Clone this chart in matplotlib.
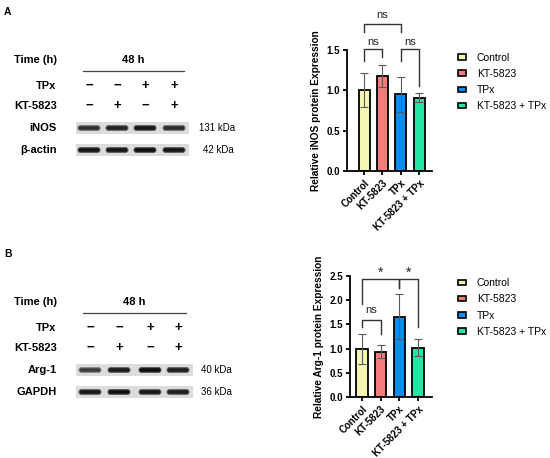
import numpy as np
import matplotlib
matplotlib.use("Agg")
import matplotlib.pyplot as plt
from matplotlib.patches import Rectangle, FancyBboxPatch, Patch

plt.rcParams['font.family'] = ['Liberation Sans', 'DejaVu Sans']

groups = ['Control', 'KT-5823', 'TPx', 'KT-5823 + TPx']
colors = ['#F4F6B4', '#F67C7C', '#0A8DF0', '#22E6A2']

inos_mean = [1.00, 1.18, 0.95, 0.91]
inos_err = [0.21, 0.14, 0.22, 0.06]
arg1_mean = [1.00, 0.94, 1.66, 1.02]
arg1_err = [0.31, 0.14, 0.47, 0.18]

# brackets: (left bar, right bar, top, left leg end, right leg end, label, label y)
inos_brackets = [(0, 1, 1.51, 1.36, 1.41, 'ns', 1.60),
                 (2, 3, 1.51, 1.36, 1.05, 'ns', 1.60),
                 (0, 2, 1.82, 1.72, 1.72, 'ns', 1.93)]
arg1_brackets = [(0, 2, 2.43, 1.92, 2.25, '*', 2.56),
                 (2, 3, 2.43, 2.25, 1.45, '*', 2.56),
                 (0, 1, 1.60, 1.45, 1.31, 'ns', 1.80)]

# blot panels
tpx_signs = ['−', '−', '+', '+']
kt_signs = ['−', '+', '−', '+']
inos_band = [0.60, 0.75, 0.90, 0.65]
actin_band = [0.90, 0.90, 1.00, 0.90]
arg1_band = [0.45, 0.85, 1.00, 0.80]
gapdh_band = [0.85, 0.95, 0.85, 0.80]

fig = plt.figure(figsize=(5.5, 4.58), dpi=100)

# overlay axes in pixel units for the blot panels
ax0 = fig.add_axes([0, 0, 1, 1])
ax0.set_xlim(0, 550)
ax0.set_ylim(458, 0)
ax0.axis('off')


def blot_row(ax, y, x0, x1, lanes, levels, bw=26):
    ax.add_patch(Rectangle((x0, y - 6), x1 - x0, 12, facecolor='#dcdcdc',
                           edgecolor='none'))
    for xc, lv in zip(lanes, levels):
        g = 0.40 - 0.35 * lv
        ax.add_patch(FancyBboxPatch((xc - bw / 2 + 1.5, y - 3), bw - 3, 6,
                                    boxstyle='round,pad=0,rounding_size=3',
                                    facecolor=(g + 0.3, g + 0.3, g + 0.3),
                                    edgecolor='none'))
        ax.add_patch(FancyBboxPatch((xc - bw / 2 + 2.5, y - 1.8), bw - 5, 3.6,
                                    boxstyle='round,pad=0,rounding_size=1.8',
                                    facecolor=(g, g, g), edgecolor='none'))


def blot_panel(ax, letter, y0, lanes, line_x, names, kda, bands, kda_x, box_x1):
    ax.text(4, y0, letter, fontsize=7.5, fontweight='bold', va='center')
    yt = y0 + 48
    ax.text(57, yt, 'Time (h)', fontsize=8, fontweight='bold', ha='right', va='center')
    ax.text(np.mean(line_x), yt, '48 h', fontsize=8, fontweight='bold', ha='center', va='center')
    ax.plot(line_x, [yt + 11, yt + 11], color='#444444', lw=0.9)
    ax.text(56, yt + 26, 'TPx', fontsize=8, fontweight='bold', ha='right', va='center')
    ax.text(57, yt + 46, 'KT-5823', fontsize=8, fontweight='bold', ha='right', va='center')
    for xc, s1, s2 in zip(lanes, tpx_signs, kt_signs):
        ax.text(xc, yt + 26, s1, fontsize=9.5, fontweight='bold', ha='center', va='center')
        ax.text(xc, yt + 46, s2, fontsize=9.5, fontweight='bold', ha='center', va='center')
    for k in range(2):
        yr = yt + 68 + 22 * k
        ax.text(57, yr, names[k], fontsize=8, fontweight='bold', ha='right', va='center')
        blot_row(ax, yr, 76, box_x1, lanes, bands[k])
        ax.text(kda_x[k], yr, kda[k], fontsize=7, ha='left', va='center')


blot_panel(ax0, 'A', 12, [89, 117, 145, 174], [83, 184], ['iNOS', 'β-actin'],
           ['131 kDa', '42 kDa'], [inos_band, actin_band], [199, 203], 189)
blot_panel(ax0, 'B', 254, [90, 119, 150, 178], [83, 186], ['Arg-1', 'GAPDH'],
           ['40 kDa', '36 kDa'], [arg1_band, gapdh_band], [201, 201], 193)


def bar_panel(rect, means, errs, brackets, ymax, step, ylabel, xlim, legend_y):
    ax = fig.add_axes(rect)
    x = np.arange(len(groups))
    ax.bar(x, means, width=0.6, color=colors, edgecolor='black', linewidth=1.3, zorder=2)
    ax.errorbar(x, means, yerr=errs, fmt='none', ecolor='#5a5a5a', elinewidth=0.8,
                capsize=3, capthick=0.8, zorder=3)
    ax.set_xlim(*xlim)
    ax.set_ylim(0, ymax)
    ax.set_yticks(np.arange(0, ymax + 0.01, step))
    ax.set_yticklabels([f'{v:.1f}' for v in np.arange(0, ymax + 0.01, step)])
    ax.set_xticks(x)
    ax.set_xticklabels(groups, rotation=45, ha='right', rotation_mode='anchor')
    for lab in ax.get_xticklabels() + ax.get_yticklabels():
        lab.set_fontweight('bold')
        lab.set_fontsize(7)
    ax.tick_params(width=1.3, length=3, pad=2)
    ax.spines[['top', 'right']].set_visible(False)
    ax.spines[['left', 'bottom']].set_linewidth(1.3)
    ax.set_ylabel(ylabel, fontsize=7.3, fontweight='bold', labelpad=4)
    for i, j, top, l1, l2, txt, ty in brackets:
        ax.plot([i, i, j, j], [l1, top, top, l2], color='#333333', lw=1.0, clip_on=False)
        ax.text((i + j) / 2, ty, txt, fontsize=8 if txt == 'ns' else 10,
                ha='center', va='center', color='#222222')
    handles = [Patch(facecolor=c, edgecolor='black', linewidth=1.2) for c in colors]
    fig.legend(handles, groups, loc='center left', bbox_to_anchor=(458 / 550, legend_y),
               frameon=False, fontsize=7.5, handlelength=0.8, handleheight=0.45,
               handletextpad=1.0, labelspacing=0.6, borderpad=0, borderaxespad=0)
    return ax


bar_panel([347 / 550, 1 - 171 / 458, 85 / 550, 121 / 458], inos_mean, inos_err,
          inos_brackets, 1.5, 0.5, 'Relative iNOS protein Expression', (-0.93, 3.7),
          1 - 82 / 458)
bar_panel([350 / 550, 1 - 397 / 458, 82 / 550, 121 / 458], arg1_mean, arg1_err,
          arg1_brackets, 2.5, 0.5, 'Relative Arg-1 protein Expression', (-0.64, 3.75),
          1 - 307.5 / 458)

fig.savefig('out.png', dpi=100)
